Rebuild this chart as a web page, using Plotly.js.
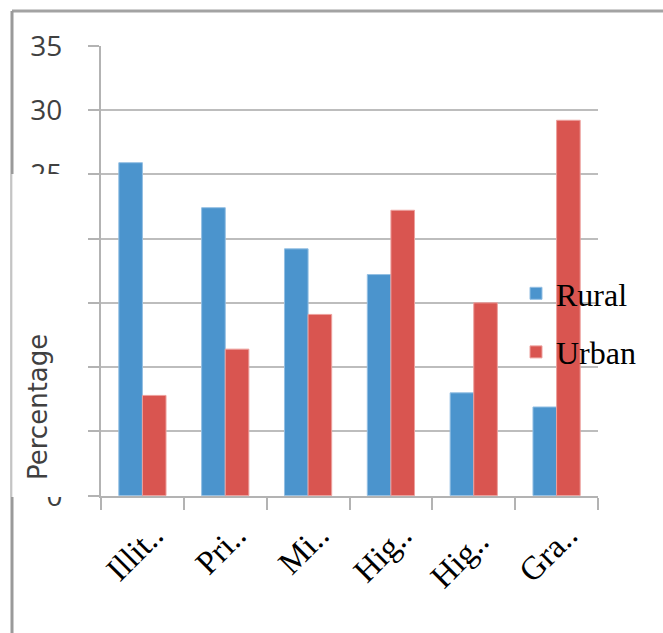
<!DOCTYPE html>
<html>
<head>
<meta charset="utf-8">
<script src="https://cdn.plot.ly/plotly-3.0.1.min.js"></script>
<style>
  html, body { margin: 0; padding: 0; background: #ffffff; }
  #chart { width: 663px; height: 633px; }
</style>
</head>
<body>
<div id="chart"></div>
<script>
// Education level categories (labels are truncated as drawn on the axis)
const categories = ['Illit..', 'Pri..', 'Mi..', 'Hig..', 'Hig.. ', 'Gra..'];
// Share of population (%) at each level
const rural = [25.9, 22.4, 19.2, 17.2, 8.0, 6.9];
const urban = [7.8, 11.4, 14.1, 22.2, 15.0, 29.2];
const yTicks = [0, 5, 10, 15, 20, 25, 30, 35];

const W = 663, H = 633;
// pixel -> paper helpers (margins are zero, so paper spans the whole page)
const px = v => v / W;
const py = v => 1 - v / H;

const traces = [
  {
    type: 'bar', name: 'Rural', x: categories, y: rural,
    legendgroup: 'r',
    marker: { color: '#4b94cd', line: { color: '#93bfe3', width: 1 } }
  },
  {
    type: 'bar', name: 'Urban', x: categories, y: urban,
    legendgroup: 'u',
    marker: { color: '#d95550', line: { color: '#eda09d', width: 1 } }
  }
];

const layout = {
  width: W, height: H,
  margin: { l: 0, r: 0, t: 0, b: 0, pad: 0 },
  paper_bgcolor: '#ffffff',
  plot_bgcolor: '#ffffff',
  barmode: 'group',
  bargap: 0.43,
  bargroupgap: 0,
  showlegend: true,
  legend: {
    x: px(516), xanchor: 'left',
    y: py(323), yanchor: 'middle',
    bgcolor: 'rgba(0,0,0,0)',
    traceorder: 'grouped',
    tracegroupgap: 14,
    font: { family: 'Liberation Serif, serif', size: 32, color: '#000000' }
  },
  xaxis: {
    domain: [px(101), px(598)],
    type: 'category',
    automargin: false,
    tickson: 'boundaries',
    ticks: 'outside', ticklen: 12, tickwidth: 2, tickcolor: '#b3b3b3',
    showline: true, linecolor: '#b3b3b3', linewidth: 2,
    showgrid: false, zeroline: false,
    tickangle: -45,
    ticklabelstandoff: 5,
    ticklabelshift: 11,
    tickfont: { family: 'Liberation Serif, serif', size: 33, color: '#000000' },
    fixedrange: true
  },
  yaxis: {
    domain: [py(495.7), py(45.7)],
    range: [0, 35],
    tickvals: yTicks,
    ticktext: yTicks.map(String),
    automargin: false,
    ticks: 'outside', ticklen: 11, tickwidth: 2, tickcolor: '#b3b3b3',
    showline: true, linecolor: '#b3b3b3', linewidth: 2,
    showgrid: true, gridcolor: '#bdbdbd', gridwidth: 2,
    zeroline: false,
    ticklabelstandoff: 20,
    tickfont: { family: 'Open Sans, sans-serif', size: 28, color: '#404040' },
    fixedrange: true
  },
  annotations: [
    {
      text: 'Percentage',
      xref: 'paper', yref: 'paper',
      x: px(38), y: py(407),
      xanchor: 'center', yanchor: 'middle',
      textangle: -90,
      showarrow: false,
      font: { family: 'DejaVu Sans, sans-serif', size: 26, color: '#404040' }
    }
  ],
  shapes: [
    // outer frame (top and left edges)
    {
      type: 'line', xref: 'paper', yref: 'paper', layer: 'above',
      x0: px(12), x1: px(663), y0: py(11), y1: py(11),
      line: { color: '#a3a3a3', width: 3 }
    },
    {
      type: 'line', xref: 'paper', yref: 'paper', layer: 'above',
      x0: px(12), x1: px(12), y0: py(11), y1: py(633),
      line: { color: '#9a9a9a', width: 3 }
    },
    // white panel laid over the middle of the value labels
    {
      type: 'rect', xref: 'paper', yref: 'paper', layer: 'above',
      x0: px(11), x1: px(86), y0: py(174), y1: py(497),
      fillcolor: '#ffffff', line: { width: 0 }
    },
    {
      type: 'line', xref: 'paper', yref: 'paper', layer: 'above',
      x0: px(11.6), x1: px(11.6), y0: py(174), y1: py(497),
      line: { color: '#c4c4c4', width: 1.5 }
    }
  ]
};

Plotly.newPlot('chart', traces, layout, { displayModeBar: false, staticPlot: true });
</script>
</body>
</html>
